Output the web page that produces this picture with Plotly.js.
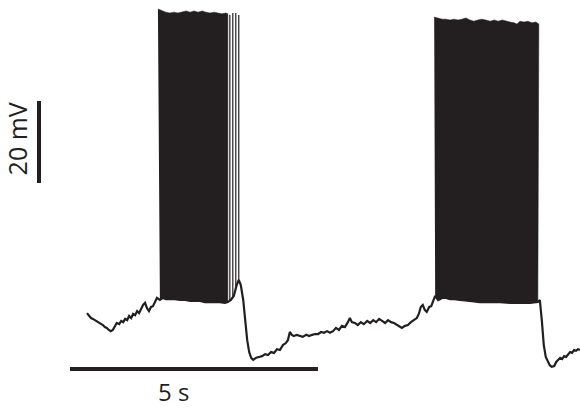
<!DOCTYPE html>
<html>
<head>
<meta charset="utf-8">
<script src="https://cdn.plot.ly/plotly-3.0.1.min.js"></script>
<style>html,body{margin:0;padding:0;background:#fff}#chart{width:580px;height:413px}</style>
</head>
<body>
<div id="chart"></div>
<script>
// ---- DATA (time in s, membrane potential in mV) ----
// slow membrane potential (inter-spike troughs and baseline)
var traceTime = [0.00,0.04,0.08,0.12,0.16,0.20,0.24,0.28,0.32,0.36,0.40,0.44,0.48,0.52,0.56,0.60,0.65,0.69,0.73,0.77,0.81,0.85,0.89,0.93,0.97,1.01,1.05,1.09,1.13,1.17,1.21,1.25,1.29,1.33,1.37,1.41,
  1.47,1.53,1.59,1.67,1.77,1.88,1.98,2.08,2.18,2.28,2.38,2.48,2.58,2.68,2.78,2.84,
  2.90,2.96,3.02,3.06,3.10,3.15,3.19,3.23,3.27,3.31,3.35,3.41,3.47,3.53,3.59,3.65,3.71,3.77,3.83,3.89,3.95,4.01,4.05,4.09,4.13,4.17,4.23,4.29,4.35,4.42,4.48,4.54,4.60,4.66,4.72,4.78,4.84,4.90,4.96,5.02,5.08,5.14,5.20,5.26,5.30,5.34,5.40,5.46,5.52,5.58,5.65,5.71,5.77,5.83,5.89,5.95,6.01,6.07,6.13,6.19,6.25,6.31,6.35,6.41,6.47,6.53,6.59,6.65,6.69,6.73,6.77,6.81,6.85,6.90,6.94,6.98,
  7.02,7.08,7.16,7.24,7.32,7.42,7.52,7.72,7.92,8.13,8.33,8.53,8.73,8.93,9.09,
  9.13,9.17,9.21,9.25,9.29,9.33,9.37,9.42,9.46,9.50,9.54,9.58,9.62,9.66,9.70,9.74,9.78,9.82,9.86,9.90,9.94];
var traceVm = [-53.2,-53.9,-54.4,-54.6,-54.9,-55.1,-55.6,-55.9,-56.1,-56.6,-56.8,-57.3,-57.6,-57.3,-56.3,-55.6,-55.9,-55.1,-55.4,-54.6,-54.9,-53.9,-54.4,-53.4,-53.7,-52.7,-53.2,-52.2,-51.2,-50.7,-52.0,-52.7,-51.7,-51.5,-50.5,-49.5,
  -50.0,-49.5,-49.8,-49.8,-49.8,-50.0,-50.0,-50.2,-50.2,-50.2,-50.5,-50.5,-50.5,-50.5,-50.7,-50.5,
  -50.0,-49.0,-46.3,-45.1,-46.3,-50.0,-54.9,-59.8,-62.7,-64.1,-64.6,-64.1,-63.9,-63.7,-63.2,-63.4,-62.7,-62.9,-62.0,-62.2,-61.0,-60.5,-59.8,-57.8,-58.5,-58.8,-58.5,-58.8,-59.0,-58.5,-58.8,-58.5,-58.3,-58.3,-57.8,-58.0,-57.6,-58.0,-57.6,-56.8,-57.3,-56.3,-56.6,-55.4,-54.4,-55.4,-55.6,-56.1,-55.4,-55.9,-55.1,-55.6,-54.9,-55.4,-54.6,-55.1,-55.6,-54.9,-55.4,-55.6,-56.1,-56.6,-56.8,-56.3,-56.1,-55.4,-54.9,-54.4,-53.4,-51.7,-51.2,-52.4,-52.9,-51.7,-51.5,-50.0,
  -49.0,-50.0,-49.5,-49.5,-49.8,-49.8,-50.0,-50.2,-50.5,-50.5,-50.5,-50.7,-50.7,-50.7,-50.5,
  -50.0,-54.9,-61.0,-63.9,-65.1,-65.9,-66.3,-66.1,-65.1,-64.6,-64.1,-64.4,-63.7,-63.9,-63.2,-62.7,-62.9,-62.2,-62.4,-62.0,-62.2];

// spike peak envelope of burst 1
var burst1PeakTime = [1.43,1.51,1.59,1.67,1.75,1.83,1.92,2.00,2.08,2.16,2.24,2.32,2.40,2.48,2.56,2.64,2.72,2.80,2.84];
var burst1PeakVm   = [21.0,20.5,20.2,20.0,20.2,20.0,20.2,20.5,20.2,20.5,20.2,20.5,20.2,20.0,20.2,20.0,19.8,20.0,19.8];

// isolated late spikes at the end of burst 1
var lateSpikeTime   = [2.88,2.94,3.00,3.06];
var lateSpikePeak   = [19.5,20.0,20.0,19.5];
var lateSpikeTrough = [-50.0,-49.5,-47.0,-45.5];

// spike peak envelope of burst 2
var burst2PeakTime = [7.00,7.08,7.16,7.24,7.32,7.40,7.48,7.56,7.64,7.72,7.80,7.88,7.96,8.04,8.13,8.21,8.29,8.37,8.45,8.53,8.61,8.67,8.73,8.81,8.89,8.97,9.05,9.11];
var burst2PeakVm   = [19.0,18.8,18.5,18.5,18.3,18.5,18.3,18.5,18.8,18.3,18.0,18.3,18.5,18.3,18.0,18.3,18.0,18.3,18.0,17.8,17.6,17.3,18.0,17.8,18.0,17.6,17.8,17.3];

// scale bars
var scaleTime = 5;   // s
var scaleVm = 20;    // mV
var scaleTimeLabel = "5 s";
var scaleVmLabel = "20 mV";

// ---- BUILD ----
var ink = '#231f20';
function burstPolygon(pt, pv) {
  var t0 = pt[0], t1 = pt[pt.length - 1];
  var xs = pt.slice(), ys = pv.slice();
  for (var i = traceTime.length - 1; i >= 0; i--) {
    if (traceTime[i] >= t0 - 0.001 && traceTime[i] <= t1 + 0.001) {
      xs.push(traceTime[i]); ys.push(traceVm[i]);
    }
  }
  return {x: xs, y: ys, mode: 'lines', fill: 'toself', fillcolor: ink,
          line: {color: ink, width: 0.5}, hoverinfo: 'skip', showlegend: false};
}
var lx = [], ly = [];
for (var i = 0; i < lateSpikeTime.length; i++) {
  lx.push(lateSpikeTime[i], lateSpikeTime[i], null);
  ly.push(lateSpikeTrough[i], lateSpikePeak[i], null);
}
var traces = [
  burstPolygon(burst1PeakTime, burst1PeakVm),
  burstPolygon(burst2PeakTime, burst2PeakVm),
  {x: lx, y: ly, mode: 'lines', line: {color: ink, width: 1.2}, hoverinfo: 'skip', showlegend: false},
  {x: traceTime, y: traceVm, mode: 'lines', line: {color: ink, width: 2.2}, hoverinfo: 'skip', showlegend: false}
];

// scale bar placement (style)
var hbarX0 = -0.343, hbarY = -66.8;
var vbarX = -0.968, vbarY1 = -1.46;
var layout = {
  width: 580, height: 413,
  margin: {l: 0, r: 0, t: 0, b: 0},
  paper_bgcolor: '#fff', plot_bgcolor: '#fff',
  xaxis: {range: [-1.754, 9.940], visible: false, fixedrange: true},
  yaxis: {range: [-77.56, 23.17], visible: false, fixedrange: true},
  shapes: [
    {type: 'line', xref: 'x', yref: 'y', x0: hbarX0, x1: hbarX0 + scaleTime, y0: hbarY, y1: hbarY, line: {color: ink, width: 4}},
    {type: 'line', xref: 'x', yref: 'y', x0: vbarX, x1: vbarX, y0: vbarY1, y1: vbarY1 - scaleVm, line: {color: ink, width: 4}}
  ],
  annotations: [
    {xref: 'x', yref: 'y', x: 1.734, y: -72.2, text: scaleTimeLabel, showarrow: false,
     font: {family: 'Open Sans', size: 24, color: ink}},
    {xref: 'x', yref: 'y', x: -1.421, y: -10.7, text: scaleVmLabel, showarrow: false, textangle: -90,
     font: {family: 'Open Sans', size: 25, color: ink}}
  ],
  showlegend: false
};
Plotly.newPlot('chart', traces, layout, {staticPlot: true, displayModeBar: false});
</script>
</body>
</html>
